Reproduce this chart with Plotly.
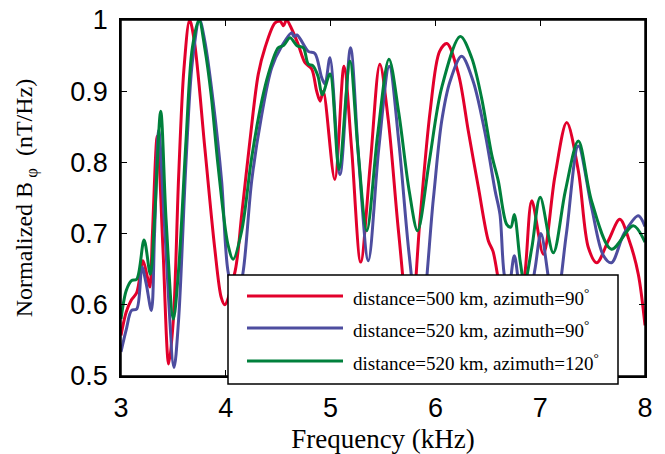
import plotly.graph_objects as go

# ---- data ----
red_f = [3.00, 3.05, 3.10, 3.15, 3.21, 3.25, 3.275, 3.30, 3.346, 3.40, 3.455, 3.50, 3.55, 3.60, 3.655,
         3.70, 3.80, 3.894, 3.957, 3.99, 4.09, 4.152, 4.23, 4.31, 4.374, 4.47, 4.52, 4.55, 4.58, 4.63,
         4.69, 4.756, 4.82, 4.867, 4.90, 4.93, 5.04, 5.128, 5.20, 5.287, 5.38, 5.47, 5.55, 5.65, 5.76,
         5.853, 5.95, 6.04, 6.11, 6.22, 6.314, 6.41, 6.505, 6.55, 6.62, 6.70, 6.80, 6.855, 6.92, 7.03,
         7.14, 7.253, 7.364, 7.46, 7.54, 7.65, 7.76, 7.85, 7.936, 8.00]
red_v = [0.557, 0.590, 0.607, 0.617, 0.662, 0.640, 0.625, 0.700, 0.837, 0.680, 0.517, 0.580, 0.780, 0.930, 1.000,
         0.970, 0.820, 0.680, 0.610, 0.600, 0.648, 0.727, 0.830, 0.924, 0.961, 0.996, 0.998, 0.992, 1.000, 0.987,
         0.966, 0.940, 0.931, 0.900, 0.886, 0.900, 0.776, 0.935, 0.820, 0.660, 0.800, 0.938, 0.860, 0.700, 0.560,
         0.720, 0.872, 0.956, 0.967, 0.924, 0.844, 0.765, 0.690, 0.675, 0.620, 0.580, 0.600, 0.645, 0.746, 0.671,
         0.780, 0.856, 0.788, 0.680, 0.659, 0.690, 0.720, 0.690, 0.643, 0.571]

blue_f = [3.00, 3.05, 3.10, 3.15, 3.20, 3.24, 3.29, 3.32, 3.36, 3.42, 3.506, 3.55, 3.62, 3.68, 3.75,
          3.80, 3.88, 3.96, 4.02, 4.10, 4.167, 4.247, 4.343, 4.438, 4.533, 4.629, 4.65, 4.68, 4.787, 4.85,
          4.915, 4.947, 4.994, 5.09, 5.19, 5.27, 5.36, 5.46, 5.56, 5.65, 5.75, 5.85, 5.98, 6.06, 6.14,
          6.25, 6.36, 6.47, 6.57, 6.616, 6.66, 6.70, 6.753, 6.81, 6.88, 6.95, 7.007, 7.10, 7.15, 7.25,
          7.364, 7.49, 7.60, 7.68, 7.80, 7.936, 8.00]
blue_v = [0.534, 0.565, 0.592, 0.594, 0.653, 0.630, 0.592, 0.700, 0.845, 0.700, 0.512, 0.580, 0.800, 0.940, 1.000,
          0.970, 0.885, 0.774, 0.648, 0.600, 0.648, 0.774, 0.867, 0.933, 0.963, 0.982, 0.977, 0.979, 0.956, 0.953,
          0.919, 0.910, 0.947, 0.783, 0.961, 0.800, 0.662, 0.820, 0.935, 0.830, 0.670, 0.560, 0.748, 0.858, 0.914,
          0.949, 0.914, 0.844, 0.760, 0.727, 0.640, 0.625, 0.669, 0.620, 0.600, 0.650, 0.700, 0.620, 0.600, 0.700,
          0.823, 0.737, 0.670, 0.659, 0.700, 0.725, 0.710]

green_f = [3.00, 3.05, 3.10, 3.15, 3.22, 3.28, 3.32, 3.379, 3.43, 3.50, 3.55, 3.62, 3.68, 3.745, 3.80,
           3.86, 3.925, 4.02, 4.07, 4.152, 4.247, 4.343, 4.406, 4.50, 4.55, 4.613, 4.68, 4.74, 4.787, 4.83,
           4.88, 4.92, 4.994, 5.08, 5.185, 5.26, 5.345, 5.45, 5.557, 5.65, 5.75, 5.83, 5.94, 6.06, 6.237,
           6.346, 6.44, 6.537, 6.60, 6.68, 6.72, 6.753, 6.81, 6.85, 6.92, 7.00, 7.125, 7.24, 7.364, 7.49,
           7.68, 7.888, 8.00]
green_v = [0.580, 0.620, 0.634, 0.636, 0.691, 0.643, 0.720, 0.872, 0.720, 0.580, 0.650, 0.830, 0.960, 1.000, 0.960,
           0.895, 0.797, 0.685, 0.664, 0.704, 0.807, 0.886, 0.924, 0.961, 0.964, 0.975, 0.964, 0.961, 0.938, 0.936,
           0.921, 0.895, 0.924, 0.790, 0.942, 0.820, 0.704, 0.840, 0.945, 0.870, 0.760, 0.704, 0.800, 0.905, 0.977,
           0.947, 0.891, 0.811, 0.774, 0.713, 0.709, 0.727, 0.660, 0.630, 0.680, 0.751, 0.673, 0.760, 0.830, 0.746,
           0.678, 0.711, 0.688]

series_names = ["distance=500 km, azimuth=90<sup>°</sup>",
                "distance=520 km, azimuth=90<sup>°</sup>",
                "distance=520 km, azimuth=120<sup>°</sup>"]
series_colors = ["#E2002B", "#4D4D9F", "#00803C"]

x_ticks = [3, 4, 5, 6, 7, 8]
x_ticklabels = ["3", "4", "5", "6", "7", "8"]
y_ticks = [0.5, 0.6, 0.7, 0.8, 0.9, 1.0]
y_ticklabels = ["0.5", "0.6", "0.7", "0.8", "0.9", "1"]

# ---- figure ----
# the page body has an 8px default margin, so the figure is sized/offset to compensate
OFF = 8
W, H = 665 - OFF, 454 - OFF
ML, MR, MT, MB = 121 - OFF, 20, 20 - OFF, 78
PW, PH = W - ML - MR, H - MT - MB

def px_x(X):  # window pixel -> paper fraction
    return (X - OFF - ML) / PW

def px_y(Y):
    return (H - MB - (Y - OFF)) / PH

fig = go.Figure()
for f, v, name, col in zip([red_f, blue_f, green_f], [red_v, blue_v, green_v], series_names, series_colors):
    fig.add_trace(go.Scatter(x=f, y=v, mode="lines", name=name,
                             line=dict(color=col, width=3, shape="spline", smoothing=0.9),
                             showlegend=False))

axis_common = dict(showline=True, linecolor="black", linewidth=1.5, mirror="allticks",
                   ticks="inside", ticklen=6, tickwidth=1.2, tickcolor="black",
                   showgrid=False, zeroline=False, automargin=False, ticklabeloverflow="allow",
                   tickfont=dict(family="Liberation Sans, Arial", size=27, color="black"))

fig.update_layout(
    width=W, height=H,
    margin=dict(l=ML, r=MR, t=MT, b=MB),
    paper_bgcolor="white", plot_bgcolor="white",
    xaxis=dict(range=[3, 8], tickvals=x_ticks, ticktext=x_ticklabels,
               title=dict(text="Frequency (kHz)", standoff=8,
                          font=dict(family="Liberation Serif, Times New Roman", size=27, color="black")),
               ticklabelstandoff=7, **axis_common),
    yaxis=dict(range=[0.5, 1.0], tickvals=y_ticks, ticktext=y_ticklabels,
               title=dict(text="Normalized B<sub> φ</sub>  (nT/Hz)", standoff=31,
                          font=dict(family="Liberation Serif, Times New Roman", size=24, color="black")),
               ticklabelstandoff=6, **axis_common),
)

# plot frame (so the top edge is always drawn)
fig.add_shape(type="rect", xref="paper", yref="paper", x0=0, x1=1, y0=0, y1=1,
              line=dict(color="black", width=1.5), fillcolor="rgba(0,0,0,0)", layer="above")

# legend box (drawn as layout decoration)
lg_left, lg_right, lg_top, lg_bottom = 228, 618, 275, 384
fig.add_shape(type="rect", xref="paper", yref="paper",
              x0=px_x(lg_left), x1=px_x(lg_right), y0=px_y(lg_bottom), y1=px_y(lg_top),
              fillcolor="white", line=dict(color="black", width=1.5), layer="above")
rows_y = [296, 328, 361]
for ry, name, col in zip(rows_y, series_names, series_colors):
    fig.add_shape(type="line", xref="paper", yref="paper",
                  x0=px_x(247), x1=px_x(343), y0=px_y(ry), y1=px_y(ry),
                  line=dict(color=col, width=3), layer="above")
    fig.add_annotation(xref="paper", yref="paper", x=px_x(351), y=px_y(ry + 1),
                       xanchor="left", yanchor="middle", showarrow=False, text=name,
                       font=dict(family="Liberation Serif, Times New Roman", size=19, color="black"))

fig.write_html("out.html")
